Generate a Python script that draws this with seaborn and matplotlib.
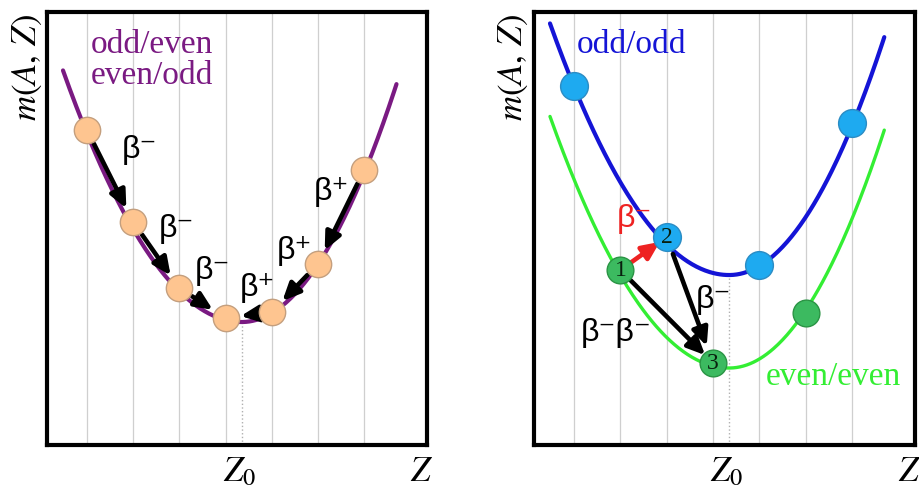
import numpy as np
import pandas as pd
import matplotlib.pyplot as plt
import seaborn as sns

sns.set_style("white")
plt.rcParams['font.family'] = ['Liberation Serif', 'DejaVu Serif']
plt.rcParams['mathtext.fontset'] = 'stix'
plt.rcParams['text.color'] = 'black'

# mass parabola shape (same shape for all three curves)
Z0 = 4.35
curv_low = 0.168      # curvature for Z < Z0
curv_high = 0.212     # curvature for Z > Z0
z_start, z_end = 0.48, 7.70
base_oddA = 1.23      # left panel minimum
base_oddodd = 1.70    # right panel, odd/odd minimum
base_eveneven = 0.77  # right panel, even/even minimum

# nuclei (circles)
left_Z = [1, 2, 3, 4, 5, 6, 7]
left_m = [3.15, 2.23, 1.57, 1.27, 1.33, 1.81, 2.75]
oo_Z = [1, 3, 5, 7]
oo_m = [3.59, 2.08, 1.80, 3.22]
ee_Z = [2, 4, 6]
ee_m = [1.75, 0.82, 1.32]

# decays: (from index, to index)
left_beta_minus = [(0, 1), (1, 2), (2, 3)]
left_beta_plus = [(6, 5), (5, 4), (4, 3)]


def parabola(z, base):
    z = np.asarray(z)
    k = np.where(z < Z0, curv_low, curv_high)
    return base + k * (z - Z0) ** 2


def curve_df(base):
    z = np.linspace(z_start, z_end, 300)
    return pd.DataFrame({'Z': z, 'm': parabola(z, base)})


def setup(ax):
    ax.set_xlim(0.134, 8.36)
    ax.set_ylim(0, 4.33)
    ax.set_xticks(range(1, 8))
    ax.set_xticklabels([])
    ax.set_yticks([])
    ax.tick_params(length=0)
    ax.grid(axis='x', color='#cfcfcf', lw=0.9)
    ax.set_axisbelow(True)
    for s in ax.spines.values():
        s.set_linewidth(3)
        s.set_color('black')
    ax.text(-0.053, 0.873, r'$m(A,\,Z)$', transform=ax.transAxes, rotation=90,
            ha='center', va='center', fontsize=25)
    ax.text(Z0 - 0.05, -0.11, r'$Z_0$', ha='center', va='top', fontsize=25, clip_on=False)
    ax.text(8.25, -0.11, r'$Z$', ha='center', va='top', fontsize=25, clip_on=False)


def arrow(ax, p, q, color='black', shrink=11):
    ax.annotate('', xy=q, xytext=p,
                arrowprops=dict(arrowstyle='-|>,head_length=0.7,head_width=0.32',
                                mutation_scale=15, lw=3.3, color=color,
                                shrinkA=shrink, shrinkB=shrink),
                zorder=3)


beta_font = dict(family=['Liberation Sans', 'DejaVu Sans'], fontsize=23,
                 ha='center', va='center')

fig = plt.figure(figsize=(9.2, 4.92), dpi=100)
ax1 = fig.add_axes([0.0511, 0.0955, 0.413, 0.880])
ax2 = fig.add_axes([0.5804, 0.0955, 0.414, 0.880])

# ---------- left panel: odd A ----------
setup(ax1)
purple = '#7a1a82'
ax1.vlines(Z0, 0, base_oddA, colors='#b0b0b0', linestyles=':', lw=1)
sns.lineplot(data=curve_df(base_oddA), x='Z', y='m', color=purple, lw=3, ax=ax1, zorder=2)
left = pd.DataFrame({'Z': left_Z, 'm': left_m})
sns.scatterplot(data=left, x='Z', y='m', s=360, color='#fec590', edgecolor='#c49f7e',
                linewidth=1, ax=ax1, zorder=4)
for i, j in left_beta_minus + left_beta_plus:
    arrow(ax1, (left_Z[i], left_m[i]), (left_Z[j], left_m[j]))
ax1.set_xlabel('')
ax1.set_ylabel('')
ax1.text(1.09, 4.16, 'odd/even\neven/odd', color=purple, fontsize=24,
         ha='left', va='top', linespacing=1.05)
for (x, y) in [(2.13, 2.95), (2.93, 2.16), (3.71, 1.74)]:
    ax1.text(x, y, 'β⁻', **beta_font)
for (x, y) in [(6.30, 2.53), (5.48, 1.94), (4.68, 1.57)]:
    ax1.text(x, y, 'β⁺', **beta_font)

# ---------- right panel: even A ----------
setup(ax2)
blue = '#1414d6'
green = '#33ee33'
ax2.vlines(Z0, 0, base_oddodd, colors='#b0b0b0', linestyles=':', lw=1)
sns.lineplot(data=curve_df(base_oddodd), x='Z', y='m', color=blue, lw=3, ax=ax2, zorder=2)
sns.lineplot(data=curve_df(base_eveneven), x='Z', y='m', color=green, lw=2.4, ax=ax2, zorder=2)
oo = pd.DataFrame({'Z': oo_Z, 'm': oo_m})
ee = pd.DataFrame({'Z': ee_Z, 'm': ee_m})
sns.scatterplot(data=oo, x='Z', y='m', s=400, color='#1eaaf0', edgecolor='#2b8cc4',
                linewidth=1, ax=ax2, zorder=4)
sns.scatterplot(data=ee, x='Z', y='m', s=370, color='#3cba60', edgecolor='#2a9444',
                linewidth=1, ax=ax2, zorder=4)
ax2.set_xlabel('')
ax2.set_ylabel('')

n1 = (ee_Z[0], ee_m[0])
n2 = (oo_Z[1], oo_m[1])
n3 = (ee_Z[1], ee_m[1])
arrow(ax2, n1, n2, color='#ee2222', shrink=6)
arrow(ax2, n1, n3, shrink=8)
arrow(ax2, n2, n3, shrink=13)
for lab, (x, y) in zip(['1', '2', '3'], [n1, n2, n3]):
    ax2.text(x, y, lab, ha='center', va='center', fontsize=17, color='#08200e', zorder=5)

ax2.text(1.06, 4.16, 'odd/odd', color=blue, fontsize=24, ha='left', va='top')
ax2.text(5.13, 0.84, 'even/even', color=green, fontsize=24, ha='left', va='top')
ax2.text(2.30, 2.26, 'β⁻', color='#ee2222', **beta_font)
ax2.text(4.01, 1.45, 'β⁻', **beta_font)
ax2.text(1.91, 1.12, 'β⁻β⁻', **beta_font)

fig.savefig('out.png', dpi=100)
